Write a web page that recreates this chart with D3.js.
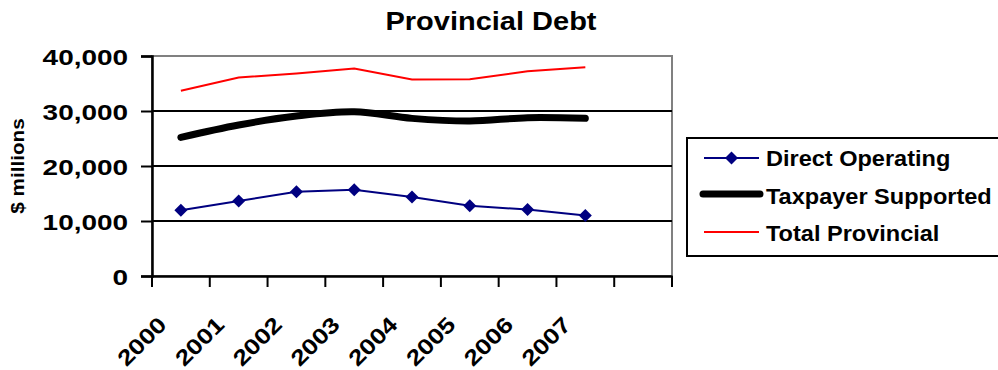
<!DOCTYPE html>
<html><head><meta charset="utf-8">
<script src="https://cdn.jsdelivr.net/npm/d3@7"></script>
<style>
html,body{margin:0;padding:0;background:#fff;}
svg text{font-family:"Liberation Sans",Arial,sans-serif;font-weight:bold;fill:#000;}
</style></head>
<body><svg id="c" width="998" height="370"></svg>
<script>
const years = ["2000","2001","2002","2003","2004","2005","2006","2007",""];
const directOperating = [11950, 13630, 15320, 15690, 14360, 12790, 12070, 10980];
const taxpayerSupported = [25200, 27450, 29080, 29860, 28660, 28170, 28780, 28660];
const totalProvincial = [33670, 36080, 36800, 37710, 35720, 35780, 37220, 37950];
const yTicks = [0, 10000, 20000, 30000, 40000];
const seriesNames = ["Direct Operating","Taxpayer Supported","Total Provincial"];

const svg = d3.select("#c");
const L = 152, R = 672, T = 56, B = 276;
const x = d3.scaleBand().domain(years.map((d,i)=>i)).range([L,R]).padding(0);
const y = d3.scaleLinear().domain([0,40000]).range([B,T]);
const cx = i => x(i) + x.bandwidth()/2;

// title
svg.append("text").attr("text-anchor","middle")
  .attr("transform","translate(491,30) scale(1.16,1)")
  .style("font-size","25px").text("Provincial Debt");

// plot border (gray)
svg.append("rect").attr("x",L).attr("y",T).attr("width",R-L).attr("height",B-T)
  .attr("fill","none").attr("stroke","#808080").attr("stroke-width",2);

// gridlines
svg.append("g").selectAll("line").data(yTicks.filter(v=>v>0 && v<40000)).join("line")
  .attr("x1",L).attr("x2",R).attr("y1",d=>y(d)).attr("y2",d=>y(d))
  .attr("stroke","#000").attr("stroke-width",2);

// y axis
const yAxis = d3.axisLeft(y).tickValues(yTicks).tickFormat(d3.format(",")).tickSize(11);
const gy = svg.append("g").attr("transform",`translate(${L},0)`).call(yAxis);
gy.select(".domain").attr("stroke","#000").attr("stroke-width",2.5);
gy.selectAll(".tick line").attr("stroke","#000").attr("stroke-width",2);
gy.selectAll(".tick text").style("font-size","22px").attr("fill","#000")
  .attr("x",null).attr("dy",null)
  .attr("transform","translate(-24,8) scale(1.27,1)");

// x axis
const xAxis = d3.axisBottom(x).tickSize(0).tickFormat(()=>"");
const gx = svg.append("g").attr("transform",`translate(0,${B})`).call(xAxis);
gx.select(".domain").attr("stroke","#000").attr("stroke-width",2.5);
gx.selectAll(".tick").remove();
const edges = d3.range(years.length+1).map(i => L + i*x.bandwidth());
svg.append("g").selectAll("line").data(edges).join("line")
  .attr("x1",d=>d).attr("x2",d=>d).attr("y1",B).attr("y2",B+11)
  .attr("stroke","#000").attr("stroke-width",2);
svg.append("g").selectAll("text").data(years.filter(d=>d)).join("text")
  .attr("text-anchor","end")
  .attr("transform",(d,i)=>`translate(${cx(i)-13},${B+50}) rotate(-45) scale(1.2,1)`)
  .style("font-size","22px").text(d=>d);

// y axis title
svg.append("text").attr("transform",`translate(24,${(T+B)/2}) rotate(-90) scale(1.15,1)`)
  .attr("text-anchor","middle").style("font-size","18px").text("$ millions");

// lines
const idx = d3.range(directOperating.length);
const lineStraight = arr => d3.line().x(i=>cx(i)).y(i=>y(arr[i]))(idx);
const lineSmooth = arr => d3.line().curve(d3.curveCatmullRom.alpha(0)).x(i=>cx(i)).y(i=>y(arr[i]))(idx);

svg.append("path").attr("d",lineStraight(totalProvincial)).attr("fill","none")
  .attr("stroke","#ff0000").attr("stroke-width",2);
svg.append("path").attr("d",lineSmooth(taxpayerSupported)).attr("fill","none")
  .attr("stroke","#000").attr("stroke-width",7).attr("stroke-linecap","round").attr("stroke-linejoin","round");
svg.append("path").attr("d",lineStraight(directOperating)).attr("fill","none")
  .attr("stroke","#000080").attr("stroke-width",2);
const diamond = (px,py,r) => `M${px},${py-r}L${px+r},${py}L${px},${py+r}L${px-r},${py}Z`;
svg.append("g").selectAll("path").data(idx).join("path")
  .attr("d",i=>diamond(cx(i),y(directOperating[i]),6.5)).attr("fill","#000080");

// legend
const lg = svg.append("g");
lg.append("rect").attr("x",687).attr("y",138).attr("width",320).attr("height",118)
  .attr("fill","#fff").attr("stroke","#000").attr("stroke-width",2);
const rowsY = [158,194,232];
const textY = [158,196,233];
const lx1 = 704, lx2 = 759;
lg.append("line").attr("x1",lx1).attr("x2",lx2).attr("y1",rowsY[0]).attr("y2",rowsY[0]).attr("stroke","#000080").attr("stroke-width",2);
lg.append("path").attr("d",diamond((lx1+lx2)/2,rowsY[0],6.5)).attr("fill","#000080");
lg.append("line").attr("x1",lx1-1).attr("x2",lx2+1).attr("y1",rowsY[1]).attr("y2",rowsY[1]).attr("stroke","#000").attr("stroke-width",7).attr("stroke-linecap","round");
lg.append("line").attr("x1",lx1).attr("x2",lx2).attr("y1",rowsY[2]).attr("y2",rowsY[2]).attr("stroke","#ff0000").attr("stroke-width",2);
lg.selectAll("text.l").data(seriesNames).join("text").attr("class","l")
  .attr("transform",(d,i)=>`translate(766,${textY[i]+8}) scale(1.07,1)`)
  .style("font-size","22px").text(d=>d);
</script></body></html>
